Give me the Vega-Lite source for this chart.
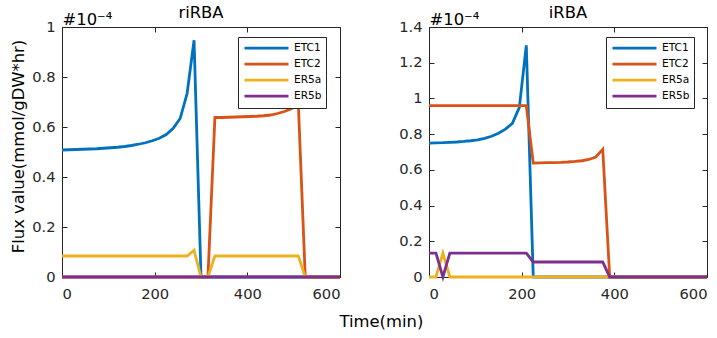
{
  "$schema": "https://vega.github.io/schema/vega-lite/v6.json",
  "padding": {"left": 9, "top": 4, "right": 0, "bottom": 0},
  "title": {
    "text": "Time(min)",
    "orient": "bottom",
    "anchor": "middle",
    "font": "DejaVu Sans",
    "fontSize": 16.4,
    "fontWeight": "normal",
    "color": "#000000",
    "offset": 12,
    "dx": 20
  },
  "datasets": {
    "riRBA": [
      {"t": 0, "ETC1": 0.508, "ETC2": 0, "ER5a": 0.084, "ER5b": 0},
      {"t": 15, "ETC1": 0.509, "ETC2": 0, "ER5a": 0.084, "ER5b": 0},
      {"t": 30, "ETC1": 0.510, "ETC2": 0, "ER5a": 0.084, "ER5b": 0},
      {"t": 45, "ETC1": 0.511, "ETC2": 0, "ER5a": 0.084, "ER5b": 0},
      {"t": 60, "ETC1": 0.512, "ETC2": 0, "ER5a": 0.084, "ER5b": 0},
      {"t": 75, "ETC1": 0.513, "ETC2": 0, "ER5a": 0.084, "ER5b": 0},
      {"t": 90, "ETC1": 0.515, "ETC2": 0, "ER5a": 0.084, "ER5b": 0},
      {"t": 105, "ETC1": 0.517, "ETC2": 0, "ER5a": 0.084, "ER5b": 0},
      {"t": 120, "ETC1": 0.519, "ETC2": 0, "ER5a": 0.084, "ER5b": 0},
      {"t": 135, "ETC1": 0.522, "ETC2": 0, "ER5a": 0.084, "ER5b": 0},
      {"t": 150, "ETC1": 0.526, "ETC2": 0, "ER5a": 0.084, "ER5b": 0},
      {"t": 165, "ETC1": 0.531, "ETC2": 0, "ER5a": 0.084, "ER5b": 0},
      {"t": 180, "ETC1": 0.537, "ETC2": 0, "ER5a": 0.084, "ER5b": 0},
      {"t": 195, "ETC1": 0.545, "ETC2": 0, "ER5a": 0.084, "ER5b": 0},
      {"t": 210, "ETC1": 0.555, "ETC2": 0, "ER5a": 0.084, "ER5b": 0},
      {"t": 225, "ETC1": 0.570, "ETC2": 0, "ER5a": 0.084, "ER5b": 0},
      {"t": 240, "ETC1": 0.595, "ETC2": 0, "ER5a": 0.084, "ER5b": 0},
      {"t": 255, "ETC1": 0.634, "ETC2": 0, "ER5a": 0.084, "ER5b": 0},
      {"t": 270, "ETC1": 0.734, "ETC2": 0, "ER5a": 0.084, "ER5b": 0},
      {"t": 285, "ETC1": 0.947, "ETC2": 0, "ER5a": 0.107, "ER5b": 0},
      {"t": 300, "ETC1": 0, "ETC2": 0, "ER5a": 0, "ER5b": 0},
      {"t": 315, "ETC1": 0, "ETC2": 0, "ER5a": 0, "ER5b": 0},
      {"t": 330, "ETC1": 0, "ETC2": 0.638, "ER5a": 0.084, "ER5b": 0},
      {"t": 345, "ETC1": 0, "ETC2": 0.638, "ER5a": 0.084, "ER5b": 0},
      {"t": 360, "ETC1": 0, "ETC2": 0.639, "ER5a": 0.084, "ER5b": 0},
      {"t": 375, "ETC1": 0, "ETC2": 0.640, "ER5a": 0.084, "ER5b": 0},
      {"t": 390, "ETC1": 0, "ETC2": 0.641, "ER5a": 0.084, "ER5b": 0},
      {"t": 405, "ETC1": 0, "ETC2": 0.642, "ER5a": 0.084, "ER5b": 0},
      {"t": 420, "ETC1": 0, "ETC2": 0.643, "ER5a": 0.084, "ER5b": 0},
      {"t": 435, "ETC1": 0, "ETC2": 0.645, "ER5a": 0.084, "ER5b": 0},
      {"t": 450, "ETC1": 0, "ETC2": 0.648, "ER5a": 0.084, "ER5b": 0},
      {"t": 465, "ETC1": 0, "ETC2": 0.654, "ER5a": 0.084, "ER5b": 0},
      {"t": 480, "ETC1": 0, "ETC2": 0.662, "ER5a": 0.084, "ER5b": 0},
      {"t": 495, "ETC1": 0, "ETC2": 0.673, "ER5a": 0.084, "ER5b": 0},
      {"t": 510, "ETC1": 0, "ETC2": 0.694, "ER5a": 0.084, "ER5b": 0},
      {"t": 525, "ETC1": 0, "ETC2": 0, "ER5a": 0, "ER5b": 0},
      {"t": 540, "ETC1": 0, "ETC2": 0, "ER5a": 0, "ER5b": 0},
      {"t": 555, "ETC1": 0, "ETC2": 0, "ER5a": 0, "ER5b": 0},
      {"t": 570, "ETC1": 0, "ETC2": 0, "ER5a": 0, "ER5b": 0},
      {"t": 585, "ETC1": 0, "ETC2": 0, "ER5a": 0, "ER5b": 0},
      {"t": 600, "ETC1": 0, "ETC2": 0, "ER5a": 0, "ER5b": 0}
    ],
    "iRBA": [
      {"t": 0, "ETC1": 0.750, "ETC2": 0.96, "ER5a": 0, "ER5b": 0.134},
      {"t": 15, "ETC1": 0.751, "ETC2": 0.96, "ER5a": 0, "ER5b": 0.134},
      {"t": 30, "ETC1": 0.752, "ETC2": 0.96, "ER5a": 0.134, "ER5b": 0},
      {"t": 45, "ETC1": 0.754, "ETC2": 0.96, "ER5a": 0, "ER5b": 0.134},
      {"t": 60, "ETC1": 0.756, "ETC2": 0.96, "ER5a": 0, "ER5b": 0.134},
      {"t": 75, "ETC1": 0.759, "ETC2": 0.96, "ER5a": 0, "ER5b": 0.134},
      {"t": 90, "ETC1": 0.763, "ETC2": 0.96, "ER5a": 0, "ER5b": 0.134},
      {"t": 105, "ETC1": 0.768, "ETC2": 0.96, "ER5a": 0, "ER5b": 0.134},
      {"t": 120, "ETC1": 0.776, "ETC2": 0.96, "ER5a": 0, "ER5b": 0.134},
      {"t": 135, "ETC1": 0.788, "ETC2": 0.96, "ER5a": 0, "ER5b": 0.134},
      {"t": 150, "ETC1": 0.805, "ETC2": 0.96, "ER5a": 0, "ER5b": 0.134},
      {"t": 165, "ETC1": 0.828, "ETC2": 0.96, "ER5a": 0, "ER5b": 0.134},
      {"t": 180, "ETC1": 0.860, "ETC2": 0.96, "ER5a": 0, "ER5b": 0.134},
      {"t": 195, "ETC1": 0.950, "ETC2": 0.96, "ER5a": 0, "ER5b": 0.134},
      {"t": 210, "ETC1": 1.297, "ETC2": 0.96, "ER5a": 0, "ER5b": 0.134},
      {"t": 225, "ETC1": 0, "ETC2": 0.638, "ER5a": 0, "ER5b": 0.084},
      {"t": 240, "ETC1": 0, "ETC2": 0.639, "ER5a": 0, "ER5b": 0.084},
      {"t": 255, "ETC1": 0, "ETC2": 0.640, "ER5a": 0, "ER5b": 0.084},
      {"t": 270, "ETC1": 0, "ETC2": 0.641, "ER5a": 0, "ER5b": 0.084},
      {"t": 285, "ETC1": 0, "ETC2": 0.642, "ER5a": 0, "ER5b": 0.084},
      {"t": 300, "ETC1": 0, "ETC2": 0.644, "ER5a": 0, "ER5b": 0.084},
      {"t": 315, "ETC1": 0, "ETC2": 0.647, "ER5a": 0, "ER5b": 0.084},
      {"t": 330, "ETC1": 0, "ETC2": 0.651, "ER5a": 0, "ER5b": 0.084},
      {"t": 345, "ETC1": 0, "ETC2": 0.658, "ER5a": 0, "ER5b": 0.084},
      {"t": 360, "ETC1": 0, "ETC2": 0.672, "ER5a": 0, "ER5b": 0.084},
      {"t": 375, "ETC1": 0, "ETC2": 0.715, "ER5a": 0, "ER5b": 0.084},
      {"t": 390, "ETC1": 0, "ETC2": 0, "ER5a": 0, "ER5b": 0},
      {"t": 405, "ETC1": 0, "ETC2": 0, "ER5a": 0, "ER5b": 0},
      {"t": 420, "ETC1": 0, "ETC2": 0, "ER5a": 0, "ER5b": 0},
      {"t": 435, "ETC1": 0, "ETC2": 0, "ER5a": 0, "ER5b": 0},
      {"t": 450, "ETC1": 0, "ETC2": 0, "ER5a": 0, "ER5b": 0},
      {"t": 465, "ETC1": 0, "ETC2": 0, "ER5a": 0, "ER5b": 0},
      {"t": 480, "ETC1": 0, "ETC2": 0, "ER5a": 0, "ER5b": 0},
      {"t": 495, "ETC1": 0, "ETC2": 0, "ER5a": 0, "ER5b": 0},
      {"t": 510, "ETC1": 0, "ETC2": 0, "ER5a": 0, "ER5b": 0},
      {"t": 525, "ETC1": 0, "ETC2": 0, "ER5a": 0, "ER5b": 0},
      {"t": 540, "ETC1": 0, "ETC2": 0, "ER5a": 0, "ER5b": 0},
      {"t": 555, "ETC1": 0, "ETC2": 0, "ER5a": 0, "ER5b": 0},
      {"t": 570, "ETC1": 0, "ETC2": 0, "ER5a": 0, "ER5b": 0},
      {"t": 585, "ETC1": 0, "ETC2": 0, "ER5a": 0, "ER5b": 0},
      {"t": 600, "ETC1": 0, "ETC2": 0, "ER5a": 0, "ER5b": 0}
    ]
  },
  "hconcat": [
    {
      "width": 278,
      "height": 250,
      "title": {"text": "riRBA", "offset": -10},
      "data": {"name": "riRBA"},
      "transform": [{"fold": ["ETC1", "ETC2", "ER5a", "ER5b"], "as": ["reaction", "flux"]}],
      "layer": [
        {
          "mark": {"type": "line", "strokeWidth": 2.8},
          "encoding": {
            "x": {"field": "t", "type": "quantitative", "scale": {"domain": [0, 600], "nice": false},
                  "axis": {"orient": "bottom", "values": [0, 200, 400, 600], "title": null, "labelPadding": 14.5}},
            "y": {"field": "flux", "type": "quantitative", "scale": {"domain": [0, 1], "nice": false},
                  "axis": {"orient": "left", "values": [0, 0.2, 0.4, 0.6, 0.8, 1], "format": "~g", "labelPadding": 12,
                           "title": "Flux value(mmol/gDW*hr)", "titlePadding": 5.5, "titleY": 119}},
            "color": {"field": "reaction", "type": "nominal",
                      "scale": {"domain": ["ETC1", "ETC2", "ER5a", "ER5b"], "range": ["#0072BD", "#D95319", "#EDB120", "#7E2F8E"]},
                      "legend": {"orient": "none", "legendX": 176, "legendY": 10}}
          }
        },
        {
          "mark": {"type": "point", "opacity": 0},
          "encoding": {
            "x": {"field": "t", "type": "quantitative",
                  "axis": {"orient": "top", "values": [0, 200, 400, 600], "labels": false, "title": "#10⁻⁴",
                           "titleAnchor": "start", "titleAlign": "left", "titleX": 0, "titlePadding": -1}},
            "y": {"field": "flux", "type": "quantitative",
                  "axis": {"orient": "right", "values": [0, 0.2, 0.4, 0.6, 0.8, 1], "labels": false, "title": null}}
          }
        }
      ],
      "resolve": {"axis": {"x": "independent", "y": "independent"}}
    },
    {
      "width": 278,
      "height": 250,
      "title": {"text": "iRBA", "offset": -10},
      "data": {"name": "iRBA"},
      "transform": [{"fold": ["ETC1", "ETC2", "ER5a", "ER5b"], "as": ["reaction", "flux"]}],
      "layer": [
        {
          "mark": {"type": "line", "strokeWidth": 2.8},
          "encoding": {
            "x": {"field": "t", "type": "quantitative", "scale": {"domain": [0, 600], "nice": false},
                  "axis": {"orient": "bottom", "values": [0, 200, 400, 600], "title": null, "labelPadding": 14.5}},
            "y": {"field": "flux", "type": "quantitative", "scale": {"domain": [0, 1.4], "nice": false},
                  "axis": {"orient": "left", "values": [0, 0.2, 0.4, 0.6, 0.8, 1, 1.2, 1.4], "format": "~g", "labelPadding": 12, "title": null}},
            "color": {"field": "reaction", "type": "nominal",
                      "scale": {"domain": ["ETC1", "ETC2", "ER5a", "ER5b"], "range": ["#0072BD", "#D95319", "#EDB120", "#7E2F8E"]},
                      "legend": {"orient": "none", "legendX": 177, "legendY": 10}}
          }
        },
        {
          "mark": {"type": "point", "opacity": 0},
          "encoding": {
            "x": {"field": "t", "type": "quantitative",
                  "axis": {"orient": "top", "values": [0, 200, 400, 600], "labels": false, "title": "#10⁻⁴",
                           "titleAnchor": "start", "titleAlign": "left", "titleX": 0, "titlePadding": -1}},
            "y": {"field": "flux", "type": "quantitative",
                  "axis": {"orient": "right", "values": [0, 0.2, 0.4, 0.6, 0.8, 1, 1.2, 1.4], "labels": false, "title": null}}
          }
        }
      ],
      "resolve": {"axis": {"x": "independent", "y": "independent"}}
    }
  ],
  "spacing": 51,
  "resolve": {"legend": {"color": "independent"}},
  "config": {
    "font": "DejaVu Sans",
    "view": {"stroke": "#262626", "strokeWidth": 1},
    "axis": {
      "domain": false,
      "grid": false,
      "tickSize": -5,
      "tickColor": "#262626",
      "tickWidth": 1,
      "labelFont": "DejaVu Sans",
      "labelFontSize": 14.7,
      "labelColor": "#262626",
      "titleFont": "DejaVu Sans",
      "titleFontSize": 16.4,
      "titleFontWeight": "normal",
      "titleColor": "#000000"
    },
    "title": {"font": "DejaVu Sans", "fontSize": 16.4, "fontWeight": "normal", "color": "#000000", "anchor": "middle"},
    "legend": {
      "title": null,
      "symbolType": "stroke",
      "symbolSize": 1936,
      "symbolStrokeWidth": 2.8,
      "symbolOffset": 1.5,
      "clipHeight": 15.4,
      "labelFont": "DejaVu Sans",
      "labelFontSize": 10.6,
      "labelColor": "#000000",
      "labelOffset": 4,
      "fillColor": "#ffffff",
      "strokeColor": "#262626",
      "padding": 3.5,
      "rowPadding": 0,
      "cornerRadius": 0
    }
  }
}
